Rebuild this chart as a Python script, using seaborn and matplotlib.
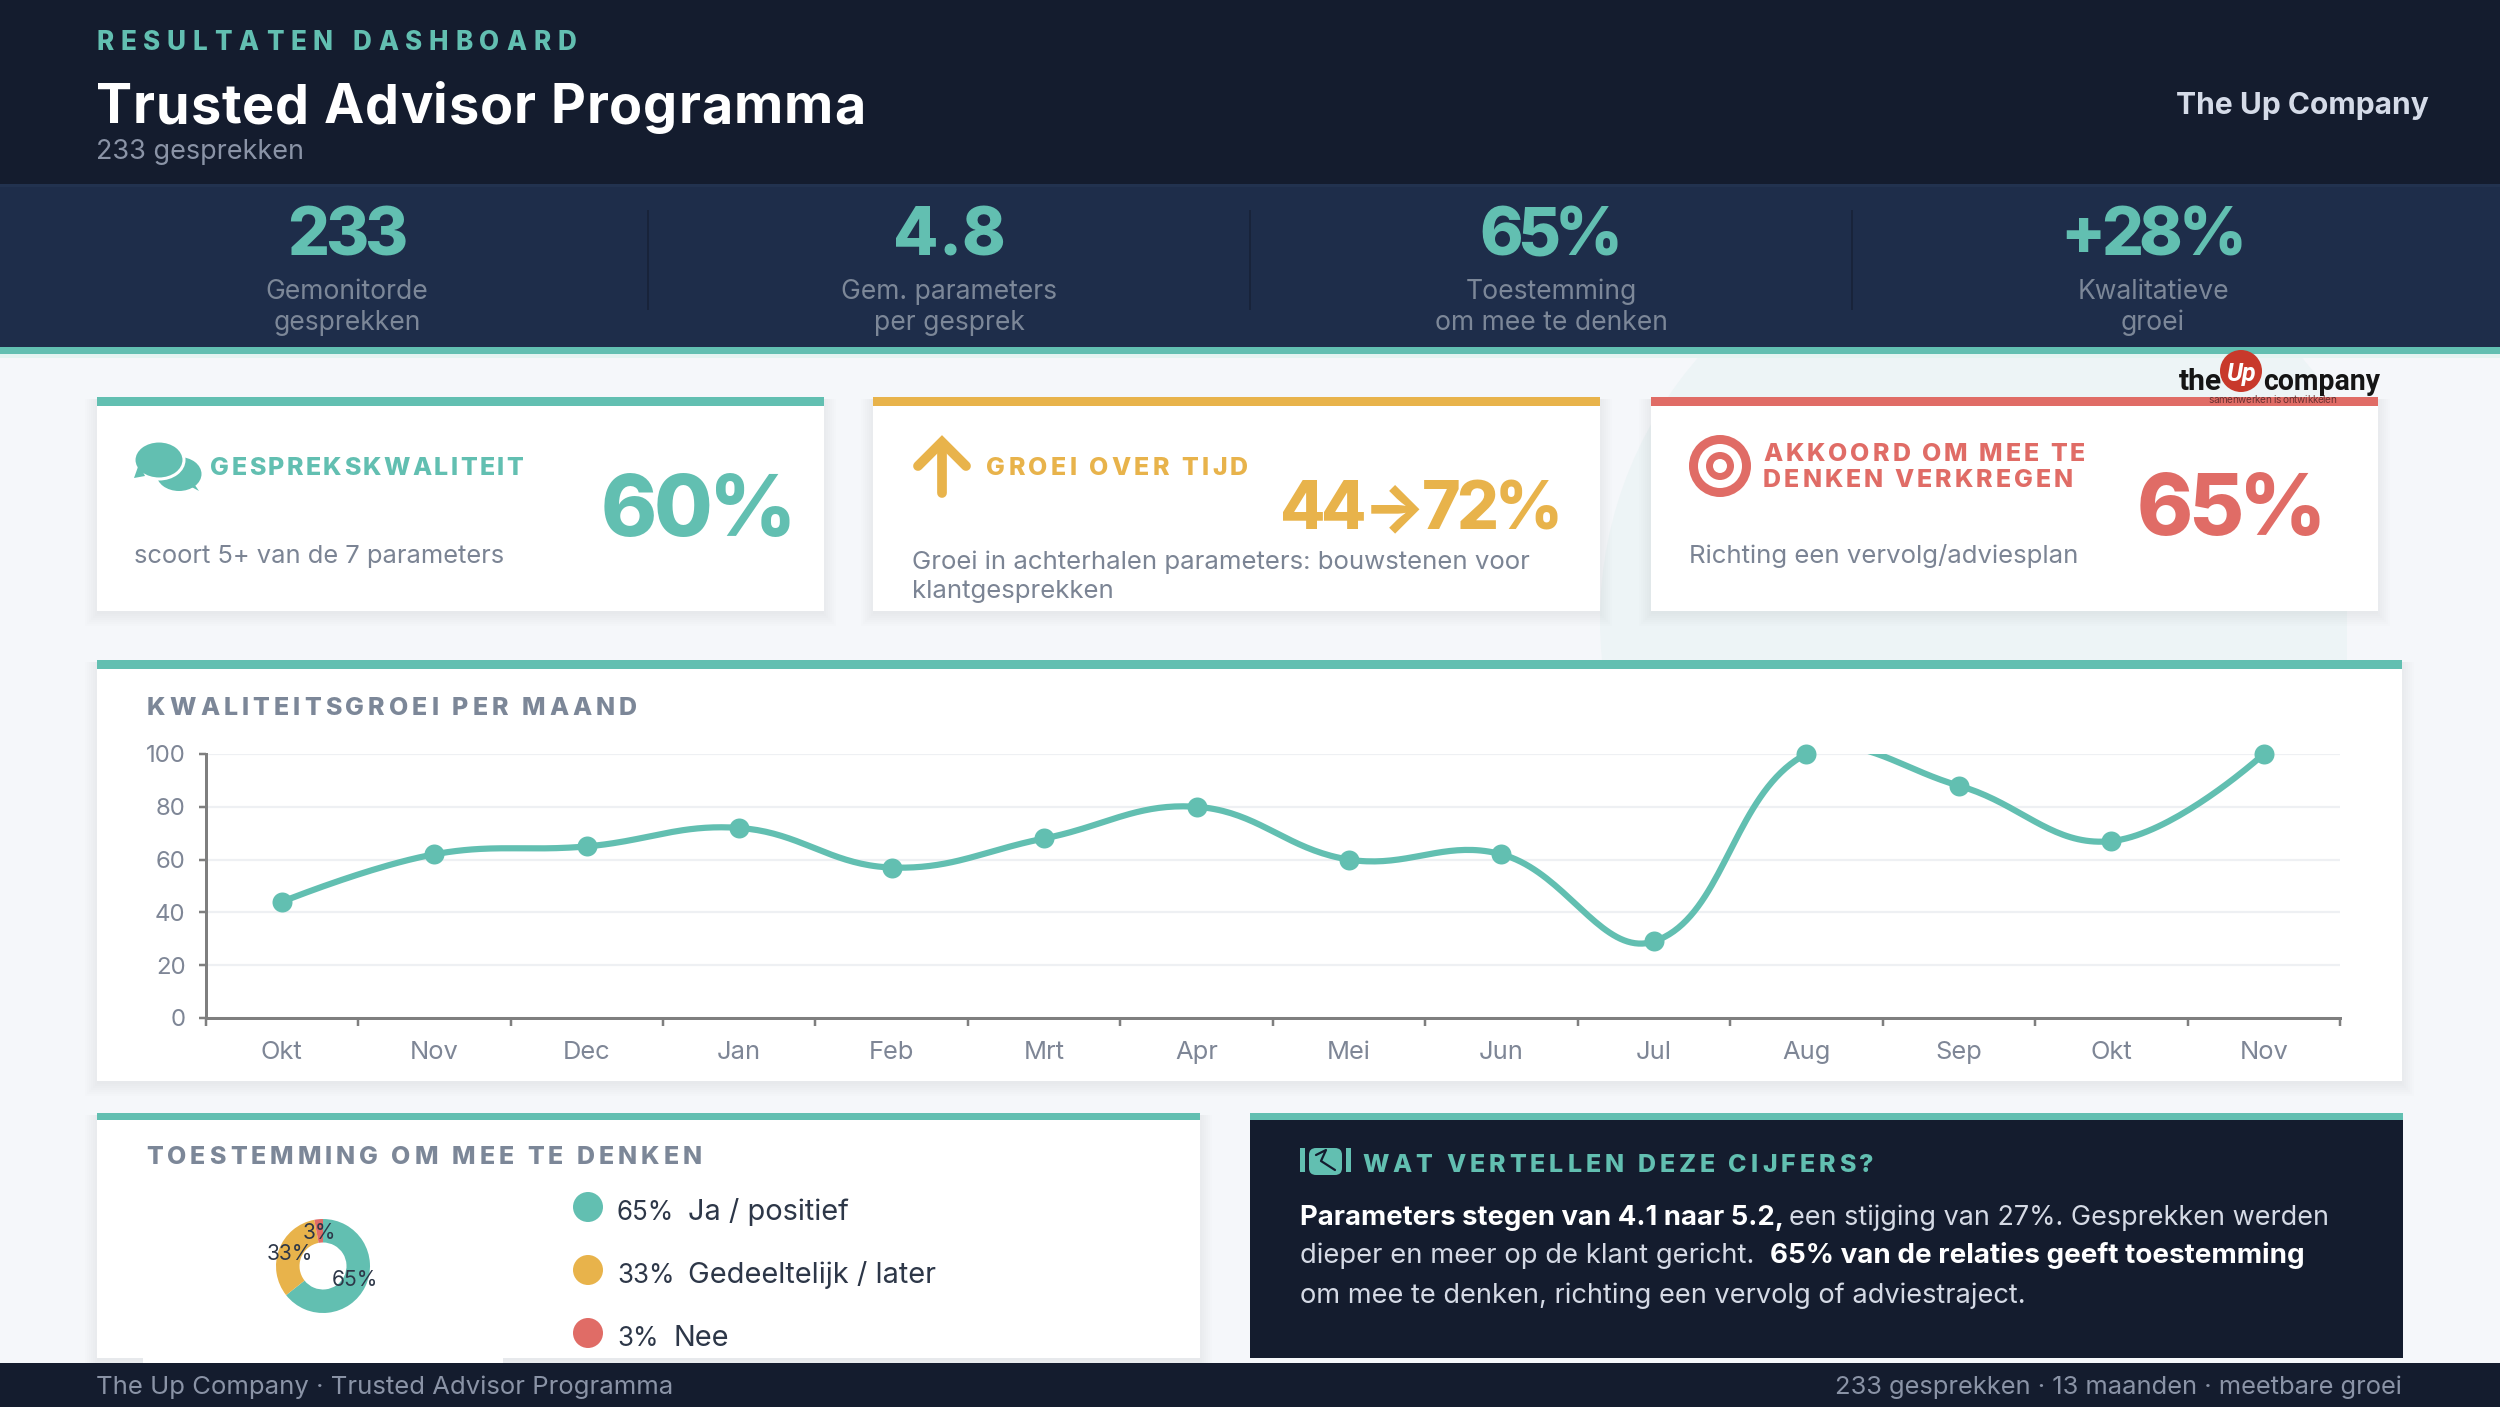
import numpy as np
import matplotlib
matplotlib.use("Agg")
import matplotlib.pyplot as plt
import seaborn as sns
from matplotlib.patches import Rectangle, Circle, Ellipse, Polygon, FancyBboxPatch
from matplotlib.text import Text
from matplotlib.transforms import Bbox

# ---------- data ----------
months = ["Okt","Nov","Dec","Jan","Feb","Mrt","Apr","Mei","Jun","Jul","Aug","Sep","Okt","Nov"]
quality = [44,62,65,72,57,68,80,60,62,29,100,88,67,100]
y_ticks = [0,20,40,60,80,100]
consent_labels = ["Ja / positief","Gedeeltelijk / later","Nee"]
consent_values = [65,33,3]
kpi_values = ["233","4.8","65%","+28%"]
kpi_labels = [("Gemonitorde","gesprekken"),("Gem. parameters","per gesprek"),
              ("Toestemming","om mee te denken"),("Kwalitatieve","groei")]

TEAL="#62BFB1"; YEL="#E8B34B"; RED="#E06C66"; NAVY="#141C2E"; BAND="#1E2D4A"
BG="#F5F7FA"; MUTED="#8A93A6"; SLATE="#7C8798"; INK="#2D3748"; DESC="#7B8494"
consent_colors=[TEAL,YEL,RED]

sns.set_theme(style="white")
plt.rcParams["font.family"]=["Inter","DejaVu Sans"]

W,H=2500,1407
fig=plt.figure(figsize=(W/100,H/100),dpi=100,facecolor=BG)
bg=fig.add_axes([0,0,1,1],zorder=0); bg.set_xlim(0,W); bg.set_ylim(H,0); bg.axis("off")

class TrackedText(Text):
    """One text whose letters are spread or tightened to fill a given width."""
    def __init__(self,x,y,s,width=None,**kw):
        super().__init__(x,y,s,**kw); self._target=width
    def _track(self,r):
        s=self.get_text()
        nat=r.get_text_width_height_descent(s,self.get_fontproperties(),False)[0]
        return (self._target-nat)/max(len(s)-1,1)
    def draw(self,r):
        s=self.get_text(); fp=self.get_fontproperties(); tr=self._track(r)
        x0,y0=self.get_transform().transform(self.get_position())
        gc=r.new_gc(); gc.set_foreground(self.get_color()); gc.set_antialiased(True)
        h=r.get_canvas_width_height()[1]
        for i,ch in enumerate(s):
            adv=r.get_text_width_height_descent(s[:i+1],fp,False)[0]-r.get_text_width_height_descent(ch,fp,False)[0] if i else 0
            if ch!=" ":
                r.draw_text(gc,x0+adv+i*tr,h-y0,ch,fp,0)
        gc.restore()
    def get_window_extent(self,renderer=None,dpi=None):
        b=super().get_window_extent(renderer,dpi)
        return Bbox.from_extents(b.x0,b.y0,b.x0+self._target,b.y1)

def rect(x0,y0,x1,y1,c,z=1,**k):
    bg.add_patch(Rectangle((x0,y0),x1-x0,y1-y0,fc=c,ec="none",zorder=z,**k))
def T(x,y,s,px,c,w="normal",ha="left",z=5,ax=bg,**k):
    return ax.text(x,y,s,fontsize=px*0.72,color=c,fontweight=w,ha=ha,va="baseline",zorder=z,**k)
def S(x,y,s,px,c,width,w=800,z=5):
    t=TrackedText(x,y,s,width=width,fontsize=px*0.72,color=c,fontweight=w,ha="left",va="baseline",zorder=z,transform=bg.transData)
    bg.add_artist(t); return t
def card(x0,y0,x1,y1,bar,fc="white",bh=9,shadow=True):
    if shadow:
        for i in range(7):
            rect(x0-i*2,y0+2,x1+i*2,y1+3+i*2,"#1B2A44",z=1.2,alpha=0.007)
    rect(x0,y0,x1,y1,fc,z=2); rect(x0,y0,x1,y0+bh,bar,z=3)

# ---------- page background ----------
deco=Circle((2000,620),400,fc="#EDF4F6",ec="none",zorder=0.5)
bg.add_patch(deco)
clip=Rectangle((1500,354),847,306,transform=bg.transData); deco.set_clip_path(clip)
rect(0,354,W,358,"#E3F4F1",z=0.8)

# ---------- header ----------
rect(0,0,W,184,NAVY); rect(0,184,W,347,BAND); rect(0,184,W,187,"#22324F",z=1.5); rect(0,347,W,354,TEAL)
S(96,50,"RESULTATEN DASHBOARD",26,TEAL,480)
S(96,123,"Trusted Advisor Programma",54,"white",769,w="bold")
T(96,159,"233 gesprekken",27,MUTED)
T(2429,114,"The Up Company",30,"#D5DBE8","bold",ha="right")

kpi_x=[347,949,1551,2153]
kpi_w=[120,112,144,186]
for xc,v,vw,(a,b) in zip(kpi_x,kpi_values,kpi_w,kpi_labels):
    S(xc-vw/2,255,v,66,TEAL,vw)
    T(xc,299,a,26.5,SLATE,ha="center"); T(xc,330,b,26.5,SLATE,ha="center")
for xd in (648,1250,1852):
    rect(xd-0.7,210,xd+0.7,310,"#18233A",z=2)

# ---------- KPI cards ----------
card(97,397,824,611,TEAL); card(873,397,1600,611,YEL); card(1651,397,2378,611,RED)
# card 1
bg.add_patch(Ellipse((179,474),45,34,fc=TEAL,ec="none",zorder=4))
bg.add_patch(Polygon([(186,484),(199,491),(190,478)],fc=TEAL,ec="none",zorder=4))
bg.add_patch(Ellipse((159,460),50,38,fc=TEAL,ec="white",lw=2.2,zorder=4.2))
bg.add_patch(Polygon([(134,478),(145,476),(139,464)],fc=TEAL,ec="none",zorder=4.3))
S(210,475,"GESPREKSKWALITEIT",25,TEAL,313)
T(134,563,"scoort 5+ van de 7 parameters",25.5,DESC)
S(601,536,"60%",85,TEAL,196)
# card 2
for seg in ([(942,493),(942,443)],[(918,466),(942,442),(966,466)]):
    xs,ys=zip(*seg)
    bg.plot(xs,ys,color=YEL,lw=7,solid_capstyle="round",solid_joinstyle="miter",zorder=4)
S(986,475,"GROEI OVER TIJD",25,YEL,262)
S(1280,529,"44→72%",66,YEL,282)
T(912,569,"Groei in achterhalen parameters: bouwstenen voor",25.8,DESC)
T(912,598,"klantgesprekken",25.8,DESC)
# card 3
for r,c in zip((31,22,14,7),(RED,"white",RED,"white")):
    bg.add_patch(Circle((1720,466),r,fc=c,ec="none",zorder=4))
S(1763,461,"AKKOORD OM MEE TE",25,RED,322)
S(1763,487,"DENKEN VERKREGEN",25,RED,310)
S(2137,535,"65%",85,RED,189)
T(1689,563,"Richting een vervolg/adviesplan",25.8,DESC)
# logo
LOGO=["Roboto","DejaVu Sans"]
bg.add_patch(Circle((2241,371),21,fc="#C8392B",ec="none",zorder=6))
T(2241,381,"Up",25,"white","bold",ha="center",z=7,style="italic",family=LOGO)
T(2179,390,"the",30,"#151515","bold",z=7,family=LOGO)
T(2263,390,"company",28.5,"#151515","bold",z=7,family=LOGO)
S(2208,403,"samenwerken is ontwikkelen",10,"#6B3030",128,w="normal",z=7)

# ---------- line chart ----------
card(97,660,2402,1081,TEAL)
S(147,715,"KWALITEITSGROEI PER MAAND",25,SLATE,490)
L,R,TOP,BOT=205.6,2340,754,1018
ax=fig.add_axes([L/W,1-BOT/H,(R-L)/W,(BOT-TOP)/H],zorder=3)
ax.patch.set_alpha(0)
ax.set_xlim(-0.5,len(months)-0.5); ax.set_ylim(0,100)

x=np.arange(len(months),dtype=float); y=np.array(quality,dtype=float)
# spline with tension 0.4, control points worked out in screen space
sx=(R-L)/len(months); sy=(BOT-TOP)/100
P=np.c_[x*sx,y*sy]; t=0.4
cin=P.copy(); cout=P.copy()
for i in range(1,len(P)-1):
    d01=np.linalg.norm(P[i]-P[i-1]); d12=np.linalg.norm(P[i+1]-P[i])
    s=d01/(d01+d12); v=P[i+1]-P[i-1]
    cin[i]=P[i]-t*s*v; cout[i]=P[i]+t*(1-s)*v
u=np.linspace(0,1,40)[:,None]
curve=np.vstack([(1-u)**3*P[i]+3*(1-u)**2*u*cout[i]+3*(1-u)*u**2*cin[i+1]+u**3*P[i+1] for i in range(len(P)-1)])
sns.lineplot(x=curve[:,0]/sx,y=curve[:,1]/sy,sort=False,estimator=None,color=TEAL,lw=6.2*0.72,ax=ax,zorder=3)
sns.scatterplot(x=x,y=y,color=TEAL,s=(20*0.72)**2,linewidth=0,ax=ax,zorder=4,clip_on=False)

ax.set_yticks(y_ticks)
ax.set_xticks(np.arange(len(months)+1)-0.5); ax.set_xticklabels([])
ax.set_xticks(x,minor=True); ax.set_xticklabels(months,minor=True)
ax.tick_params(axis="x",which="major",length=8*0.72,width=2.5*0.72,color="#7F7F7F",bottom=True)
ax.tick_params(axis="x",which="minor",length=0,pad=16.3,labelsize=25.5*0.72,labelcolor="#7E8696",bottom=False)
ax.tick_params(axis="y",length=7*0.72,width=2.5*0.72,color="#7F7F7F",left=True,pad=9.5,labelsize=24*0.72,labelcolor="#7E8696")
ax.grid(axis="y",color="#EEF0F3",lw=2.2*0.72); ax.grid(axis="x",visible=False); ax.set_axisbelow(True)
ax.set_xlabel(""); ax.set_ylabel("")
for k in ("top","right"): ax.spines[k].set_visible(False)
for k in ("left","bottom"):
    ax.spines[k].set_color("#7F7F7F"); ax.spines[k].set_linewidth(3*0.72)

# ---------- consent card ----------
card(97,1113,1200,1358,TEAL,bh=7)
rect(143,1358,503,1363,"white",z=2)
S(146,1164,"TOESTEMMING OM MEE TE DENKEN",25,SLATE,556)
r_px=47
axp=fig.add_axes([(323-r_px)/W,1-(1266+r_px)/H,2*r_px/W,2*r_px/H],zorder=3)
wedges,_=axp.pie(consent_values,colors=consent_colors,startangle=90,counterclock=False,radius=1,
                 wedgeprops=dict(width=0.5,linewidth=0))
axp.set_xlim(-1,1); axp.set_ylim(-1,1)
for wd,v in zip(wedges,consent_values):
    a=np.deg2rad((wd.theta1+wd.theta2)/2)
    axp.text(0.76*np.cos(a),0.70*np.sin(a),f"{v}%",fontsize=21*0.72,color=INK,ha="center",va="center",clip_on=False,zorder=5)
for yc,lx,v,l,c in zip((1207,1270,1333),(688,688,673),consent_values,consent_labels,consent_colors):
    bg.add_patch(Circle((588,yc),15,fc=c,ec="none",zorder=4))
    T(617,yc+13,f"{v}%",26,INK); T(lx,yc+13,l,29,INK)

# ---------- insight card ----------
card(1250,1113,2403,1358,TEAL,fc=NAVY,bh=7,shadow=False)
bg.add_patch(FancyBboxPatch((1311,1150),29,23,boxstyle="round,pad=2,rounding_size=7",fc=TEAL,ec="none",zorder=4))
rect(1300,1148,1305,1172,TEAL,z=4); rect(1346,1148,1351,1172,TEAL,z=4)
bg.plot([1316,1326,1321,1335],[1155,1150,1161,1170],color=NAVY,lw=1.6,zorder=4.5)
S(1362,1172,"WAT VERTELLEN DEZE CIJFERS?",25,TEAL,512)
BODY="#D5DAE5"
T(1300,1225,"Parameters stegen van 4.1 naar 5.2,",27.5,"white","bold")
T(1789,1225,"een stijging van 27%. Gesprekken werden",27,BODY)
T(1300,1263,"dieper en meer op de klant gericht.",27.4,BODY)
T(1770,1263,"65% van de relaties geeft toestemming",27.8,"white","bold")
T(1300,1303,"om mee te denken, richting een vervolg of adviestraject.",27.2,BODY)

# ---------- footer ----------
rect(0,1363,W,H,NAVY,z=2.5)
T(96,1394,"The Up Company · Trusted Advisor Programma",25.7,MUTED)
T(2402,1394,"233 gesprekken · 13 maanden · meetbare groei",25.5,MUTED,ha="right")

fig.savefig("out.png",dpi=100,facecolor=BG)
